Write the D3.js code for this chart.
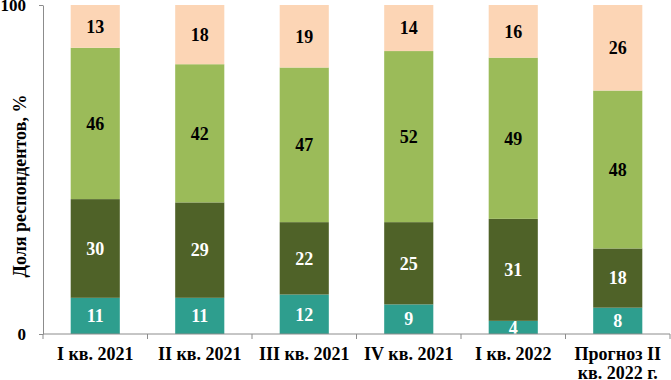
<!DOCTYPE html>
<html>
<head>
<meta charset="utf-8">
<script src="https://cdn.jsdelivr.net/npm/d3@7"></script>
<style>
  body { margin: 0; background: #fff; }
  text { font-family: "Liberation Serif", "Times New Roman", serif; font-weight: bold; }
</style>
</head>
<body>
<svg id="chart"></svg>
<script>
// quarters and shares of respondents, %
const categories = ['I кв. 2021', 'II кв. 2021', 'III кв. 2021', 'IV кв. 2021', 'I кв. 2022', 'Прогноз II кв. 2022 г.'];
const seriesA = [11, 11, 12, 9, 4, 8];     // teal, bottom
const seriesB = [30, 29, 22, 25, 31, 18];  // dark olive
const seriesC = [46, 42, 47, 52, 49, 48];  // light green
const seriesD = [13, 18, 19, 14, 16, 26];  // peach, top
const yTicks = [0, 100];

const config = {
    width: 671,
    height: 380,
    margin: { top: 5, right: 1, bottom: 46, left: 43 },
    colors: ['#2e9e8e', '#4f6228', '#9bbb59', '#fcd5b5'],
    labelColors: ['#ffffff', '#ffffff', '#000000', '#000000']
};

const series = [seriesA, seriesB, seriesC, seriesD];
const keys = ['a', 'b', 'c', 'd'];
const data = categories.map((c, i) => {
    const row = { cat: c };
    keys.forEach((k, j) => row[k] = series[j][i]);
    return row;
});

const innerW = config.width - config.margin.left - config.margin.right;
const innerH = config.height - config.margin.top - config.margin.bottom;

const svg = d3.select('#chart')
    .attr('width', config.width)
    .attr('height', config.height);

const chart = svg.append('g')
    .attr('transform', `translate(${config.margin.left},${config.margin.top})`);

const xScale = d3.scaleBand()
    .domain(categories)
    .range([0, innerW])
    .paddingInner(0.53)
    .paddingOuter(0.265);

const yScale = d3.scaleLinear()
    .domain([0, 100])
    .range([innerH, 0]);

const stack = d3.stack().keys(keys)(data);

// bars
const layers = chart.selectAll('.layer')
    .data(stack)
    .join('g')
    .attr('class', 'layer')
    .attr('fill', (d, i) => config.colors[i]);

layers.selectAll('rect')
    .data(d => d)
    .join('rect')
    .attr('x', d => xScale(d.data.cat))
    .attr('y', d => yScale(d[1]))
    .attr('width', xScale.bandwidth())
    .attr('height', d => yScale(d[0]) - yScale(d[1]));

// value labels
layers.selectAll('text')
    .data((d, i) => d.map(v => ({ v, i })))
    .join('text')
    .attr('x', d => xScale(d.v.data.cat) + xScale.bandwidth() / 2)
    .attr('y', d => yScale((d.v[0] + d.v[1]) / 2))
    .attr('dy', '0.35em')
    .attr('text-anchor', 'middle')
    .attr('font-size', 18)
    .attr('fill', d => config.labelColors[d.i])
    .text(d => d.v[1] - d.v[0]);

// y axis
const yAxis = d3.axisLeft(yScale)
    .tickValues(yTicks)
    .tickSize(4)
    .tickSizeOuter(0)
    .tickPadding(13);

const yAxisG = chart.append('g').call(yAxis);
yAxisG.select('.domain').attr('stroke', '#8c8c8c');
yAxisG.selectAll('.tick line').attr('stroke', '#8c8c8c');
yAxisG.selectAll('.tick text')
    .attr('font-size', 17)
    .attr('fill', '#000')
    .style('font-family', '"Liberation Serif", serif')
    .style('font-weight', 'bold');

// x axis with ticks at category boundaries
const xAxisG = chart.append('g')
    .attr('transform', `translate(0,${innerH})`);
xAxisG.append('line')
    .attr('x1', 0).attr('x2', innerW)
    .attr('stroke', '#8c8c8c');
const step = xScale.step();
xAxisG.selectAll('.bnd')
    .data(d3.range(categories.length + 1))
    .join('line')
    .attr('class', 'bnd')
    .attr('x1', i => i * step).attr('x2', i => i * step)
    .attr('y1', 0).attr('y2', 5)
    .attr('stroke', '#8c8c8c');

const catLines = ['I кв. 2021', 'II кв. 2021', 'III кв. 2021', 'IV кв. 2021', 'I кв. 2022', ['Прогноз II', 'кв. 2022 г.']];
xAxisG.selectAll('.xl')
    .data(categories)
    .join('text')
    .attr('class', 'xl')
    .attr('x', d => xScale(d) + xScale.bandwidth() / 2)
    .attr('y', 26)
    .attr('text-anchor', 'middle')
    .attr('font-size', 18)
    .each(function (d, i) {
        const lines = Array.isArray(catLines[i]) ? catLines[i] : [catLines[i]];
        d3.select(this).selectAll('tspan')
            .data(lines)
            .join('tspan')
            .attr('x', xScale(d) + xScale.bandwidth() / 2)
            .attr('dy', (l, j) => j === 0 ? 0 : 19)
            .text(l => l);
    });

// y axis title
svg.append('text')
    .attr('transform', 'translate(26,186) rotate(-90)')
    .attr('text-anchor', 'middle')
    .attr('font-size', 18)
    .text('Доля респондентов, %');
</script>
</body>
</html>
